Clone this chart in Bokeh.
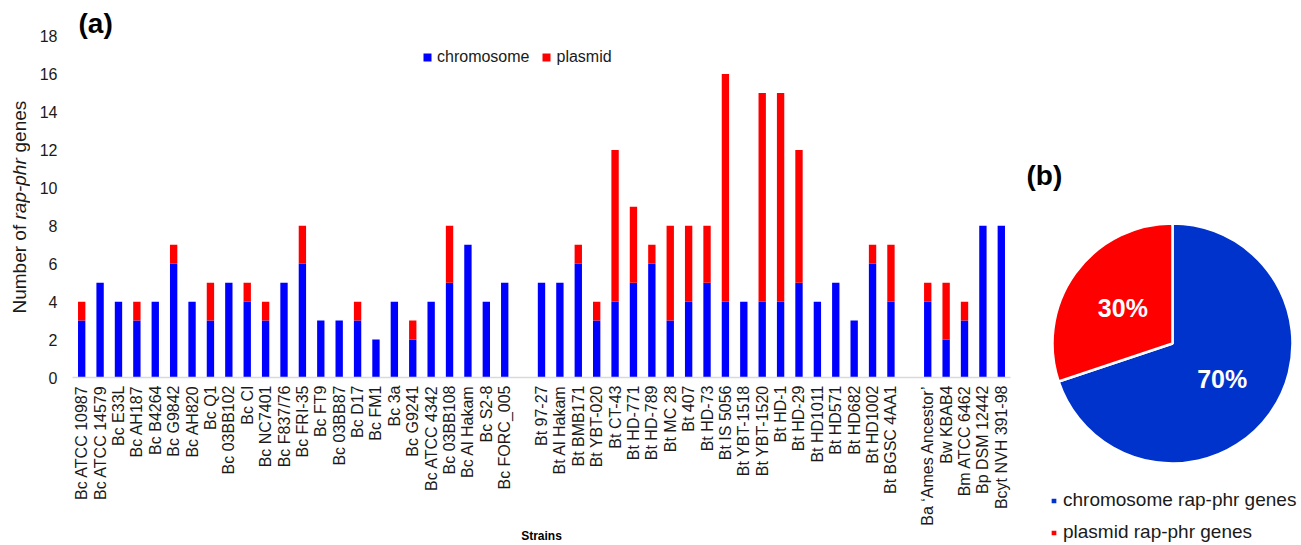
import math
from bokeh.plotting import figure
from bokeh.models import (FactorRange, Range1d, FixedTicker, Legend, LegendItem,
                          Label, ColumnDataSource)
from bokeh.core.properties import value
from bokeh.layouts import row
from bokeh.embed import file_html
from bokeh.resources import INLINE

# ---------------- data ----------------
bc_strains = ["Bc ATCC 10987", "Bc ATCC 14579", "Bc E33L", "Bc AH187", "Bc B4264",
              "Bc G9842", "Bc AH820", "Bc Q1", "Bc 03BB102", "Bc CI", "Bc NC7401",
              "Bc F837/76", "Bc FRI-35", "Bc FT9", "Bc 03BB87", "Bc D17", "Bc FM1",
              "Bc 3a", "Bc G9241", "Bc ATCC 4342", "Bc 03BB108", "Bc Al Hakam",
              "Bc S2-8", "Bc FORC_005"]
bc_chromosome = [3, 5, 4, 3, 4, 6, 4, 3, 5, 4, 3, 5, 6, 3, 3, 3, 2, 4, 2, 4, 5, 7, 4, 5]
bc_plasmid = [1, 0, 0, 1, 0, 1, 0, 2, 0, 1, 1, 0, 2, 0, 0, 1, 0, 0, 1, 0, 3, 0, 0, 0]

bt_strains = ["Bt 97-27", "Bt Al Hakam", "Bt BMB171", "Bt YBT-020", "Bt CT-43",
              "Bt HD-771", "Bt HD-789", "Bt MC 28", "Bt 407", "Bt HD-73", "Bt IS 5056",
              "Bt YBT-1518", "Bt YBT-1520", "Bt HD-1", "Bt HD-29", "Bt HD1011",
              "Bt HD571", "Bt HD682", "Bt HD1002", "Bt BGSC 4AA1"]
bt_chromosome = [5, 5, 6, 3, 4, 5, 6, 3, 4, 5, 4, 4, 4, 4, 5, 4, 5, 3, 6, 4]
bt_plasmid = [0, 0, 1, 1, 8, 4, 1, 5, 4, 3, 12, 0, 11, 11, 7, 0, 0, 0, 1, 3]

other_strains = ["Ba \u2018Ames Ancestor\u2019", "Bw KBAB4", "Bm ATCC 6462",
                 "Bp DSM 12442", "Bcyt NVH 391-98"]
other_chromosome = [4, 2, 3, 8, 8]
other_plasmid = [1, 3, 1, 0, 0]

y_ticks = [0, 2, 4, 6, 8, 10, 12, 14, 16, 18]
series_names = ["chromosome", "plasmid"]
pie_names = ["chromosome rap-phr genes", "plasmid rap-phr genes"]

# ---------------- styling ----------------
FONT = "Liberation Sans"
TXT = "#1a1a1a"
BLUE = "#0000FF"
RED = "#FF0000"
PIE_BLUE = "#0033CC"
H = 545

strains = bc_strains + bt_strains + other_strains
chromosome = bc_chromosome + bt_chromosome + other_chromosome
plasmid = bc_plasmid + bt_plasmid + other_plasmid
factors = bc_strains + [" "] + bt_strains + ["  "] + other_strains

src = ColumnDataSource(dict(strain=strains, chromosome=chromosome, plasmid=plasmid))

# ---------------- y-axis title (own narrow panel) ----------------
W0 = 30
t = figure(x_range=Range1d(0, W0), y_range=Range1d(0, H), width=W0, height=H,
           min_border=0, output_backend="svg", toolbar_location=None, frame_align=False)
t.axis.visible = False
t.grid.grid_line_color = None
t.outline_line_color = None
pieces = [("Number of", "normal", 232), ("rap-phr", "italic", 326), ("genes", "normal", 393)]
for txt, style, yy in pieces:
    t.text(x=[19], y=[yy], text=[txt], angle=math.pi / 2, text_align="left",
           text_baseline="middle", text_font=value(FONT), text_font_size="19px",
           text_font_style=style, text_color=TXT)

# ---------------- bar chart ----------------
W1 = 988
p = figure(x_range=FactorRange(factors=factors, range_padding=0),
           y_range=Range1d(0, 19.88), width=W1, height=H,
           min_border_left=42, min_border_right=8, min_border_top=0,
           min_border_bottom=165, output_backend="svg", toolbar_location=None,
           frame_align=False)
p.outline_line_color = None
p.xgrid.grid_line_color = None
p.ygrid.grid_line_color = None

rs = p.vbar_stack(series_names, x="strain", width=0.4, color=[BLUE, RED],
                  line_color=None, source=src)

p.yaxis.ticker = FixedTicker(ticks=y_ticks)
p.yaxis.axis_line_color = None
p.yaxis.major_tick_line_color = None
p.yaxis.minor_tick_line_color = None
p.yaxis.major_tick_out = 0
p.yaxis.major_label_text_font = FONT
p.yaxis.major_label_text_font_size = "16px"
p.yaxis.major_label_text_color = TXT
p.yaxis.major_label_standoff = 15

p.xaxis.axis_line_color = "#d9d9d9"
p.xaxis.axis_line_width = 1.5
p.xaxis.major_tick_line_color = None
p.xaxis.minor_tick_line_color = None
p.xaxis.major_tick_out = 0
p.xaxis.major_tick_in = 0
p.xaxis.major_label_orientation = math.pi / 2
p.xaxis.major_label_text_font = FONT
p.xaxis.major_label_text_font_size = "16px"
p.xaxis.major_label_text_color = TXT
p.xaxis.major_label_standoff = 8
p.xaxis.axis_label = "Strains"
p.xaxis.axis_label_text_font = FONT
p.xaxis.axis_label_text_font_size = "12px"
p.xaxis.axis_label_text_font_style = "bold"
p.xaxis.axis_label_text_color = "#000000"
p.xaxis.axis_label_standoff = 0

legend = Legend(items=[LegendItem(label=series_names[0], renderers=[rs[0]]),
                       LegendItem(label=series_names[1], renderers=[rs[1]])],
                orientation="horizontal", location=(350, 311),
                glyph_width=10, glyph_height=10, label_height=10,
                label_standoff=5, spacing=12, padding=0, margin=0,
                border_line_alpha=0, background_fill_alpha=0,
                label_text_font=FONT, label_text_font_size="16px",
                label_text_color=TXT)
p.add_layout(legend)

p.add_layout(Label(x=6, y=354, x_units="screen", y_units="screen", text="(a)",
                   text_align="left", text_baseline="middle", text_font=FONT,
                   text_font_size="28px", text_font_style="bold", text_color="#000000"))

# ---------------- pie ----------------
totals = [sum(chromosome), sum(plasmid)]
grand = sum(totals)
shares = [tt / grand for tt in totals]
order = [1, 0]          # plasmid anticlockwise from 12 o'clock, chromosome the rest
starts, ends, mids = [0.0, 0.0], [0.0, 0.0], [0.0, 0.0]
a = math.pi / 2
for i in order:
    starts[i] = a
    a = a + shares[i] * 2 * math.pi
    ends[i] = a
    mids[i] = (starts[i] + ends[i]) / 2

W2 = 283
CX, CY, R = 154, 202, 120
pie_src = ColumnDataSource(dict(name=pie_names, start=starts, end=ends,
                                color=[PIE_BLUE, RED],
                                pct=["%d%%" % round(s * 100) for s in shares],
                                lx=[CX + 0.51 * R * math.cos(m) for m in mids],
                                ly=[CY + 0.51 * R * math.sin(m) for m in mids]))

q = figure(x_range=Range1d(0, W2), y_range=Range1d(0, H), width=W2, height=H,
           min_border=0, output_backend="svg", toolbar_location=None, frame_align=False)
q.axis.visible = False
q.grid.grid_line_color = None
q.outline_line_color = None

wr = q.wedge(x=CX, y=CY, radius=R, start_angle="start", end_angle="end",
             fill_color="color", line_color="white", line_width=2.5, source=pie_src)
q.text(x="lx", y="ly", text="pct", source=pie_src, text_align="center",
       text_baseline="middle", text_color="white", text_font_size="25px",
       text_font_style="bold", text_font=value(FONT))

pl = Legend(items=[LegendItem(label=pie_names[0], renderers=[wr], index=0),
                   LegendItem(label=pie_names[1], renderers=[wr], index=1)],
            orientation="vertical", location=(31, 2),
            glyph_width=9, glyph_height=9, label_height=9,
            label_standoff=5, spacing=10, padding=0, margin=0,
            border_line_alpha=0, background_fill_alpha=0,
            label_text_font=FONT, label_text_font_size="19px", label_text_color=TXT)
q.add_layout(pl)

q.add_layout(Label(x=8, y=370, text="(b)", text_align="left", text_baseline="middle",
                   text_font=FONT, text_font_size="28px", text_font_style="bold",
                   text_color="#000000"))

layout = row(t, p, q)
open("out.html", "w").write(file_html(layout, INLINE))
